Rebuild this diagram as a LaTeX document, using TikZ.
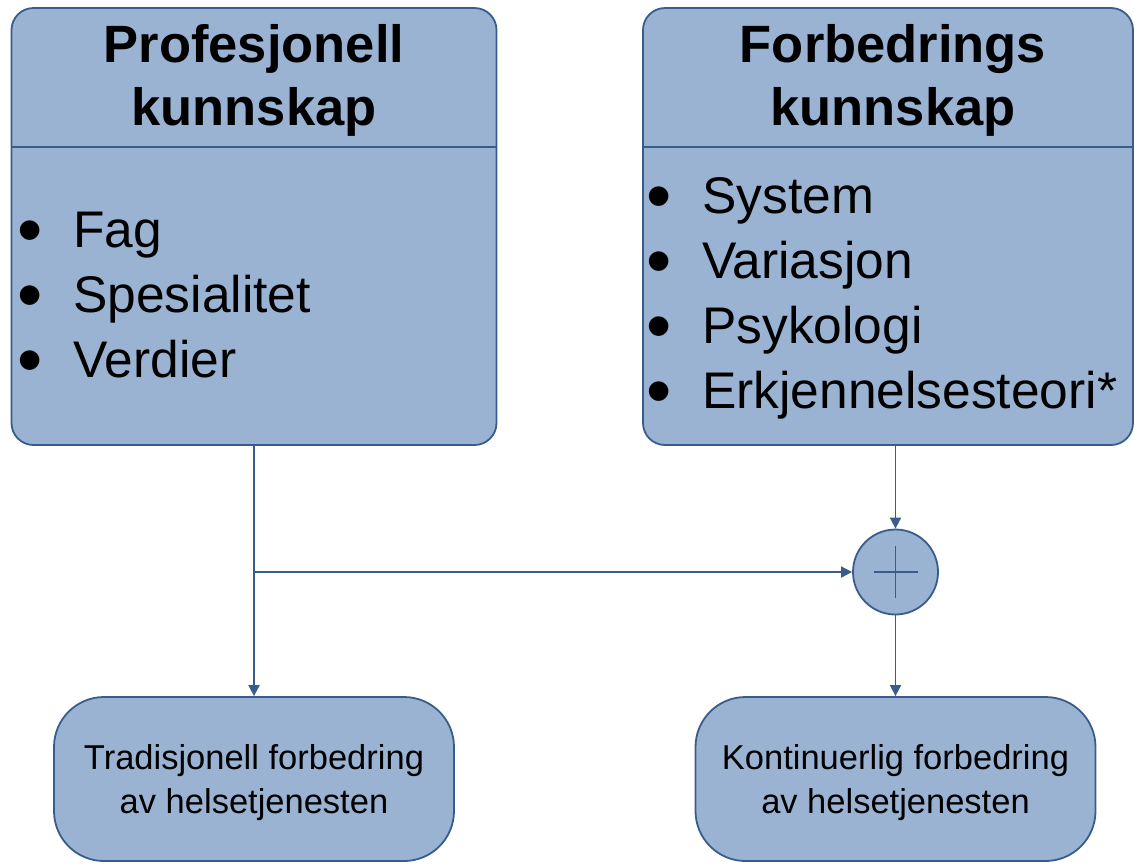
\documentclass[tikz,border=0pt]{standalone}
\usepackage{fontspec}
\setmainfont{Liberation Sans}
\usetikzlibrary{arrows.meta}
\definecolor{boxfill}{RGB}{154,179,211}
\definecolor{boxline}{RGB}{56,93,140}
\newcommand{\blt}{\makebox[56pt][l]{\raisebox{-7pt}{\scalebox{1.4}{•}}}}
\begin{document}
\begin{tikzpicture}[x=1pt,y=-1pt,
  panel/.style={rectangle, draw=boxline, fill=boxfill, line width=1.8pt, rounded corners=22pt, inner sep=0pt},
  endbox/.style={rectangle, draw=boxline, fill=boxfill, line width=1.8pt, rounded corners=50pt, inner sep=0pt, minimum width=400pt, minimum height=164pt},
  sumnode/.style={circle, draw=boxline, fill=boxfill, line width=1.8pt, minimum size=85pt, inner sep=0pt},
  title/.style={anchor=base, font=\bfseries\fontsize{52.5}{63}\selectfont, inner sep=0pt},
  item/.style={anchor=base west, font=\fontsize{51.5}{65}\selectfont, inner sep=0pt},
  small/.style={anchor=base, font=\fontsize{34.5}{44}\selectfont, inner sep=0pt},
  conn/.style={draw=boxline, line width=1.8pt, -{Triangle[length=11pt,width=11pt]}},
  divider/.style={draw=boxline, line width=1.8pt}
]
\useasboundingbox (0,0) rectangle (1134,863);

% upper panels
\node[panel, minimum width=485pt, minimum height=437pt] (pk) at (254,226.5) {};
\node[panel, minimum width=490pt, minimum height=437pt] (fk) at (888,226.5) {};
\coordinate (pkdl) at (11.5,147);
\coordinate (pkdr) at (496.5,147);
\coordinate (fkdl) at (643,147);
\coordinate (fkdr) at (1133,147);
\draw[divider] (pkdl) -- (pkdr);
\draw[divider] (fkdl) -- (fkdr);

% titles
\node[title] (pkt1) at (254,62) {Profesjonell};
\node[title] (pkt2) at (254,125) {kunnskap};
\node[title] (fkt1) at (893,62) {Forbedrings};
\node[title] (fkt2) at (893,125) {kunnskap};

% bullet lists
\node[item] (pk1) at (17,247) {\blt Fag};
\node[item] (pk2) at (17,312) {\blt Spesialitet};
\node[item] (pk3) at (17,377) {\blt Verdier};
\node[item] (fk1) at (646,213) {\blt System};
\node[item] (fk2) at (646,278) {\blt Variasjon};
\node[item] (fk3) at (646,343) {\blt Psykologi};
\node[item] (fk4) at (646,408) {\blt Erkjennelsesteori*};

% sum node
\node[sumnode] (plus) at (895.5,572) {};
\draw[boxline, line width=1.5pt] ([shift={(-22,0)}]plus.center) -- ([shift={(22,0)}]plus.center);
\draw[boxline, line width=1.5pt] ([shift={(0,-26)}]plus.center) -- ([shift={(0,26)}]plus.center);

% bottom boxes
\node[endbox] (tb) at (254,779) {};
\node[endbox] (kb) at (895.5,779) {};
\node[small] (tb1) at (254,769) {Tradisjonell forbedring};
\node[small] (tb2) at (254,813) {av helsetjenesten};
\node[small] (kb1) at (895.5,769) {Kontinuerlig forbedring};
\node[small] (kb2) at (895.5,813) {av helsetjenesten};

% connectors
\coordinate (junc) at (254,572);
\draw[conn] (pk.south) -- (tb.north);
\draw[conn] (junc) -- (plus.west);
\draw[conn] (plus |- fk.south) -- (plus.north);
\draw[conn] (plus.south) -- (kb.north);
\end{tikzpicture}
\end{document}
